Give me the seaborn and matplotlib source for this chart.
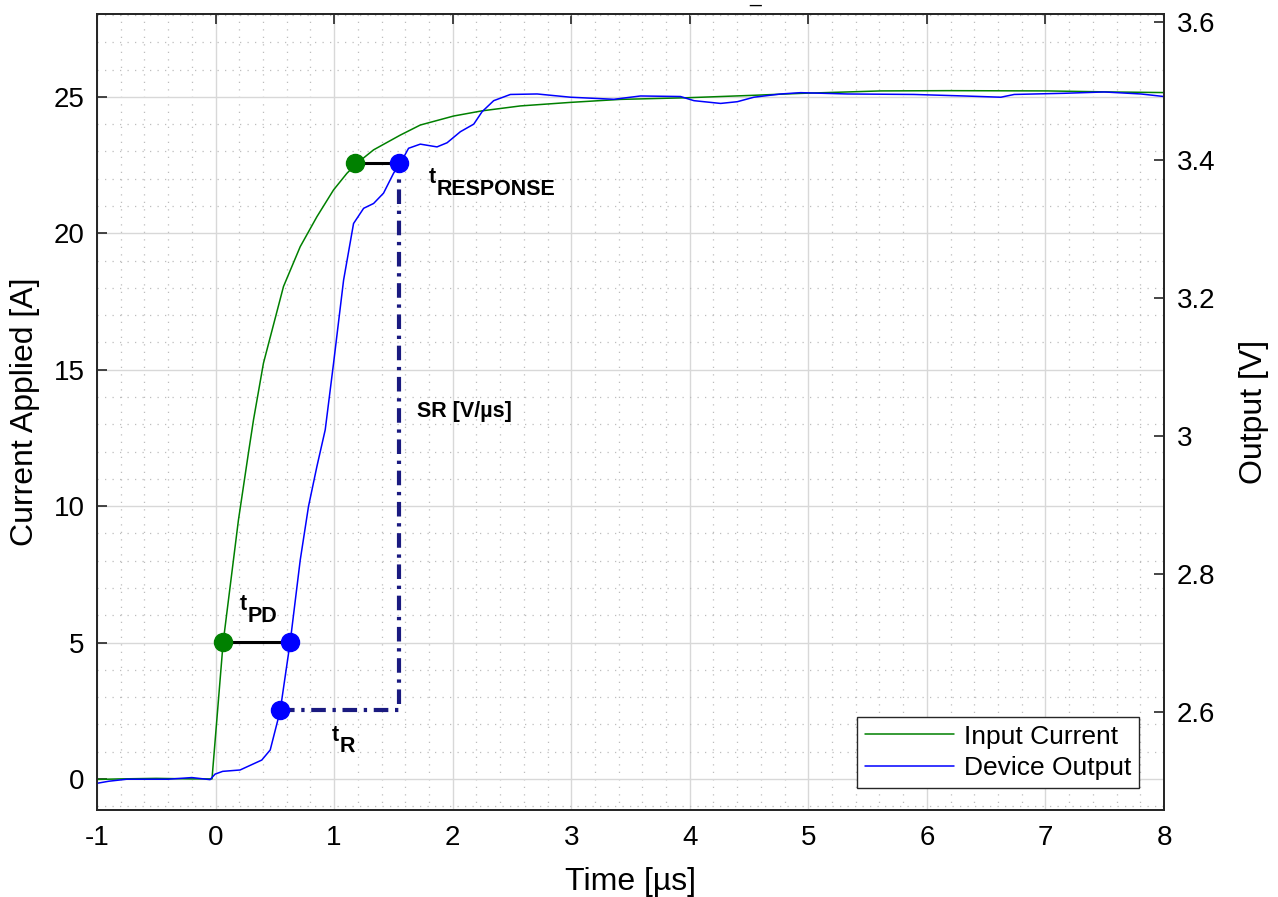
import matplotlib
matplotlib.use("Agg")
import matplotlib.pyplot as plt
from matplotlib.ticker import MultipleLocator, FixedLocator
from matplotlib.lines import Line2D
import seaborn as sns
import pandas as pd

# ---------------- data ----------------
input_t = [-1.0, -0.8, -0.5, -0.2, -0.03, 0.064, 0.193, 0.277, 0.32, 0.404, 0.573,
           0.714, 0.855, 0.995, 1.108, 1.193, 1.333, 1.558, 1.727, 2.008, 2.248,
           2.571, 2.994, 3.416, 3.979, 4.541, 4.936, 5.61, 6.174, 7.018, 7.58, 8.0]
input_current = [-0.02, 0.0, 0.02, 0.0, 0.0, 5.0, 9.49, 11.94, 13.16, 15.24, 18.05,
                 19.51, 20.61, 21.59, 22.2, 22.57, 23.06, 23.6, 23.97, 24.3, 24.49,
                 24.67, 24.8, 24.91, 24.97, 25.06, 25.13, 25.22, 25.23, 25.22, 25.18, 25.16]

output_t = [-1.0, -0.9, -0.75, -0.4, -0.2, -0.046, -0.004, 0.06, 0.207, 0.39, 0.461,
            0.545, 0.63, 0.714, 0.784, 0.855, 0.925, 0.995, 1.08, 1.164, 1.249, 1.333,
            1.417, 1.502, 1.558, 1.628, 1.727, 1.868, 1.953, 2.065, 2.178, 2.248, 2.346,
            2.487, 2.713, 2.994, 3.36, 3.585, 3.922, 4.035, 4.26, 4.401, 4.541, 4.767,
            4.936, 5.33, 5.89, 6.315, 6.624, 6.737, 7.159, 7.497, 7.806, 8.0]
output_v = [2.4967, 2.4997, 2.5026, 2.5026, 2.505, 2.502, 2.51, 2.514, 2.516, 2.5304, 2.545,
            2.6017, 2.702, 2.82, 2.898, 2.956, 3.009, 3.105, 3.226, 3.308, 3.33, 3.337,
            3.352, 3.381, 3.395, 3.417, 3.423, 3.419, 3.425, 3.441, 3.452, 3.47, 3.486,
            3.495, 3.4957, 3.491, 3.488, 3.4928, 3.492, 3.486, 3.482, 3.4845, 3.491, 3.4957,
            3.4976, 3.4957, 3.495, 3.4928, 3.491, 3.495, 3.4967, 3.4986, 3.4957, 3.492]

# annotation points (time in us, output level in V)
pd_t_in, pd_t_out, pd_level = 0.064, 0.63, 2.701
r_t, r_level = 0.545, 2.603
resp_t_in, resp_t_out, resp_level = 1.178, 1.55, 3.396

x_ticks = [-1, 0, 1, 2, 3, 4, 5, 6, 7, 8]
left_ticks = [0, 5, 10, 15, 20, 25]
right_ticks = [2.6, 2.8, 3.0, 3.2, 3.4, 3.6]
right_tick_labels = ["2.6", "2.8", "3", "3.2", "3.4", "3.6"]

# ---------------- style ----------------
sns.set_style("white")
plt.rcParams['font.family'] = ['Liberation Sans', 'DejaVu Sans']
plt.rcParams['axes.unicode_minus'] = False
for key in ('text.color', 'axes.labelcolor', 'xtick.color', 'ytick.color'):
    plt.rcParams[key] = 'black'

GREEN = '#008000'
BLUE = '#0000ff'
NAVY = '#1a1a80'
AX_COL = '#262626'

fig = plt.figure(figsize=(12.78, 8.97), dpi=100)
ax = fig.add_axes([97/1278, 87/897, (1164-97)/1278, (810-14)/897])
ax2 = ax.twinx()

df_in = pd.DataFrame({"t": input_t, "I": input_current})
df_out = pd.DataFrame({"t": output_t, "V": output_v})

sns.lineplot(data=df_in, x="t", y="I", ax=ax, color=GREEN, lw=1.1, estimator=None, sort=True)
sns.lineplot(data=df_out, x="t", y="V", ax=ax2, color=BLUE, lw=1.1, estimator=None, sort=True)

ax.set_xlim(-1, 8)
ax.set_ylim(-1.14, 28.04)
ax2.set_ylim(2.458, 3.6116)

ax.xaxis.set_major_locator(FixedLocator(x_ticks))
ax.yaxis.set_major_locator(FixedLocator(left_ticks))
ax.xaxis.set_minor_locator(MultipleLocator(0.2))
ax.yaxis.set_minor_locator(MultipleLocator(1))
ax2.yaxis.set_major_locator(FixedLocator(right_ticks))
ax2.set_yticklabels(right_tick_labels)

ax.grid(True, which='major', color='#d8d8d8', lw=1.0, ls='-')
ax.grid(True, which='minor', color='#bdbdbd', lw=0.9, ls=(0, (1, 5)))
ax.set_axisbelow(True)

ax.tick_params(axis='x', which='major', direction='in', length=7, width=1.2, top=True,
               labelsize=20, pad=11, color=AX_COL)
ax.tick_params(axis='y', which='major', direction='in', length=7, width=1.2, right=False,
               labelsize=20, pad=9, color=AX_COL)
ax.tick_params(which='minor', length=0)
ax2.tick_params(axis='y', which='major', direction='in', length=7, width=1.2,
                labelsize=20, pad=9, color=AX_COL)
ax2.tick_params(which='minor', length=0)

for a in (ax, ax2):
    for s in a.spines.values():
        s.set_color(AX_COL)
        s.set_linewidth(1.3)
        s.set_visible(True)

ax.set_xlabel("Time [µs]", fontsize=23, labelpad=11)
ax.set_ylabel("Current Applied [A]", fontsize=23, labelpad=10)
ax2.set_ylabel("Output [V]", fontsize=23, labelpad=17)

# ---------------- annotations ----------------
ax2.plot([pd_t_in, pd_t_out], [pd_level, pd_level], color='black', lw=2.2, zorder=5)
ax2.plot([r_t, resp_t_out, resp_t_out], [r_level, r_level, resp_level], color=NAVY, lw=3,
         ls=(0, (3.5, 1.6, 0.8, 1.6)), zorder=5)
ax2.plot([resp_t_in, resp_t_out], [resp_level, resp_level], color='black', lw=2.2, zorder=5)

ax2.plot([pd_t_in, resp_t_in], [pd_level, resp_level], ls='none', marker='o', ms=13,
         color=GREEN, zorder=6)
ax2.plot([pd_t_out, r_t, resp_t_out], [pd_level, r_level, resp_level], ls='none', marker='o',
         ms=13, color=BLUE, zorder=6)

def sub_label(x, y, main, sub, dx_px, dy_px, size=15.5):
    ax2.annotate(main, xy=(x, y), xycoords='data', fontsize=size, fontweight='bold',
                 ha='left', va='baseline', zorder=7)
    ax2.annotate(sub, xy=(x, y), xycoords='data', xytext=(dx_px * 0.72, -dy_px * 0.72),
                 textcoords='offset points', fontsize=size, fontweight='bold',
                 ha='left', va='baseline', zorder=7)

# positions converted from pixels: t = (x-97)/118.44 - 1 ; V = 3.4 + (160 - y)/690
def tx(px):
    return (px - 97) / 118.44 - 1

def vy(py):
    return 3.4 + (160 - py) / 690

sub_label(tx(240), vy(610), "t", "PD", 7.5, 12)
sub_label(tx(332), vy(741), "t", "R", 7.5, 11)
sub_label(tx(428), vy(183), "t", "RESPONSE", 8.5, 12)
ax2.text(tx(417), vy(417), "SR [V/µs]", fontsize=15.5, fontweight='bold', ha='left',
         va='baseline', zorder=7)

# legend
handles = [Line2D([], [], color=GREEN, lw=1.1), Line2D([], [], color=BLUE, lw=1.1)]
leg = ax2.legend(handles, ["Input Current", "Device Output"], loc='lower right',
                 bbox_to_anchor=(1 - 25/1067, 22/796), fontsize=19, frameon=True,
                 fancybox=False, framealpha=1, edgecolor='#262626', handlelength=3.4,
                 borderpad=0.3, labelspacing=0.28, handletextpad=0.35, borderaxespad=0)
leg.get_frame().set_linewidth(1.0)

fig.text(755/1278, 1 - 1.5/897, "_", fontsize=15, ha='center', va='baseline')

fig.savefig("out.png", dpi=100)
